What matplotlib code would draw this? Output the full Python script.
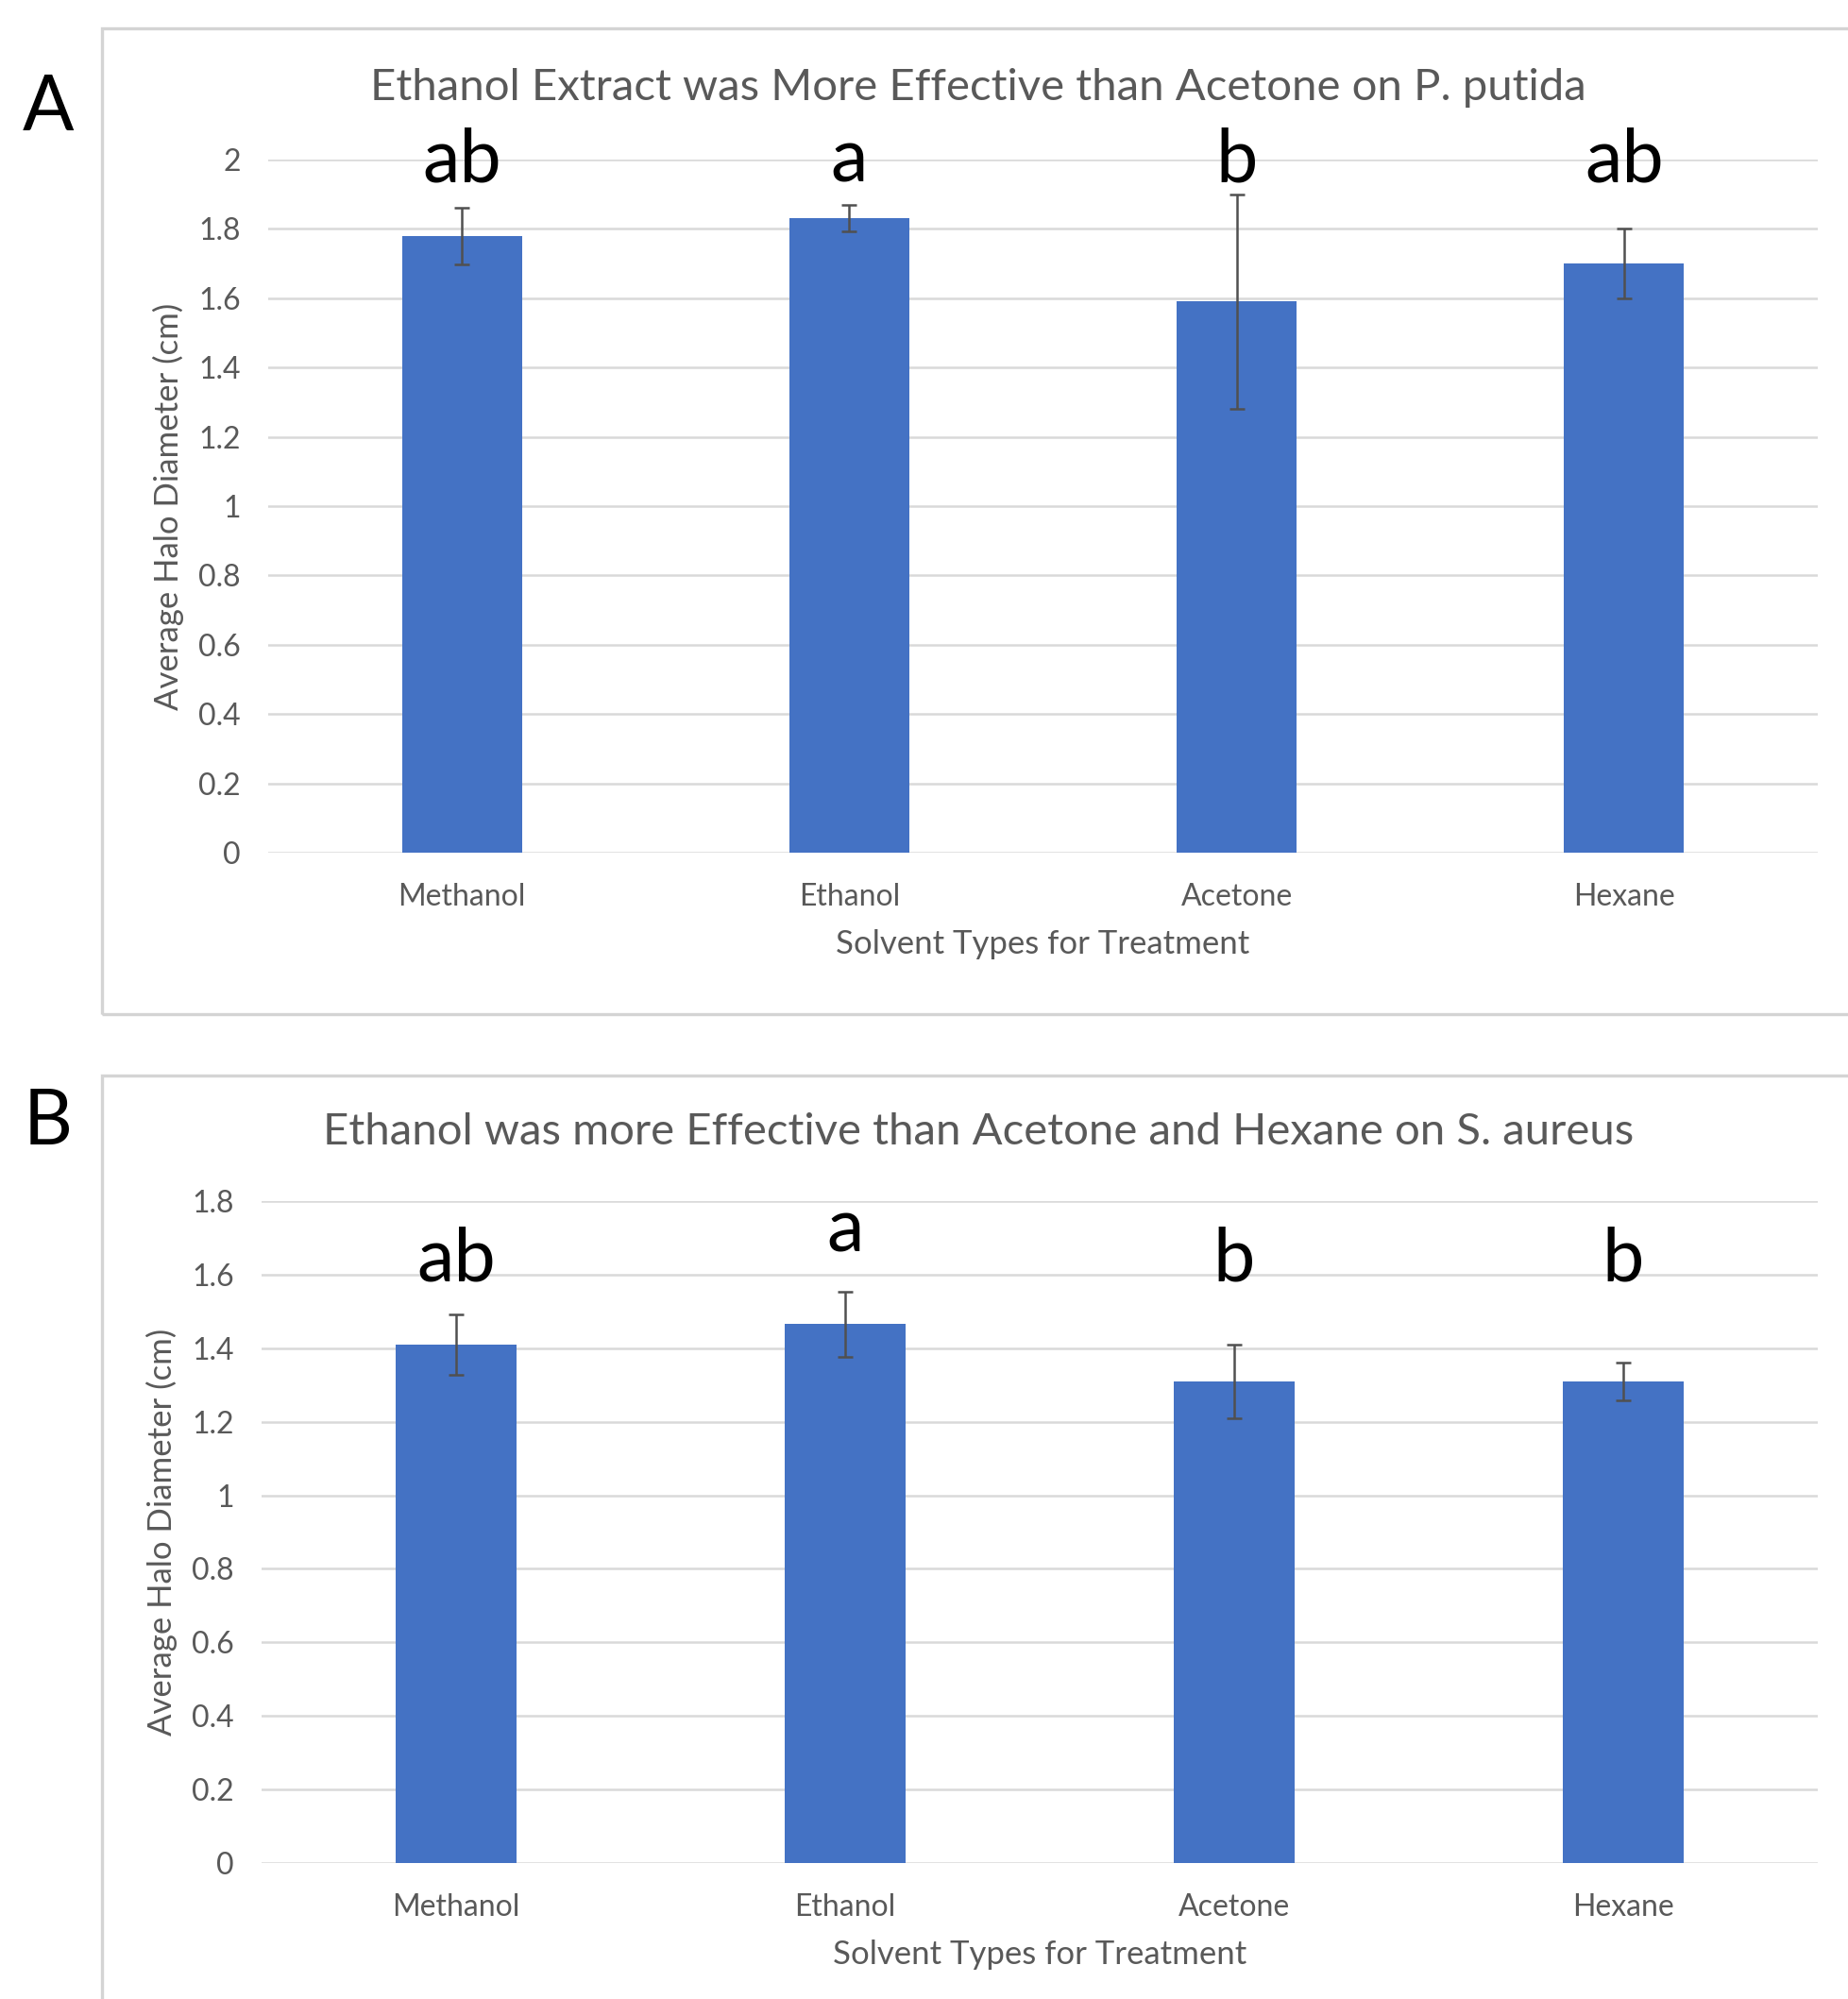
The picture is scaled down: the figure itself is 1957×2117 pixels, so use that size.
import matplotlib
matplotlib.use("Agg")
import matplotlib.pyplot as plt
from matplotlib.patches import Rectangle

plt.rcParams['font.family'] = ['Lato', 'DejaVu Sans']

categories = ["Methanol", "Ethanol", "Acetone", "Hexane"]

# Panel A: P. putida
a_means = [1.78, 1.83, 1.59, 1.70]
a_errs = [0.082, 0.038, 0.31, 0.10]
a_letters = ["ab", "a", "b", "ab"]
a_letter_y = [1.995, 1.995, 1.995, 1.995]
a_title = "Ethanol Extract was More Effective than Acetone on P. putida"
a_ticks = [0, 0.2, 0.4, 0.6, 0.8, 1.0, 1.2, 1.4, 1.6, 1.8, 2.0]
a_ticklabels = ["0", "0.2", "0.4", "0.6", "0.8", "1", "1.2", "1.4", "1.6", "1.8", "2"]

# Panel B: S. aureus
b_means = [1.41, 1.465, 1.31, 1.31]
b_errs = [0.083, 0.088, 0.10, 0.052]
b_letters = ["ab", "a", "b", "b"]
b_letter_y = [1.64, 1.72, 1.64, 1.64]
b_title = "Ethanol was more Effective than Acetone and Hexane on S. aureus"
b_ticks = [0, 0.2, 0.4, 0.6, 0.8, 1.0, 1.2, 1.4, 1.6, 1.8]
b_ticklabels = ["0", "0.2", "0.4", "0.6", "0.8", "1", "1.2", "1.4", "1.6", "1.8"]

xlabel = "Solvent Types for Treatment"
ylabel = "Average Halo Diameter (cm)"

W, H = 1957, 2117
fig = plt.figure(figsize=(W / 100, H / 100), dpi=100)
fig.patch.set_facecolor("white")

BAR = "#4472C4"
GRID = "#d9d9d9"
TXT = "#595959"
ERR = "#505050"

# chart frames
fig.add_artist(Rectangle((108 / W, 1 - 1074 / H), (1975 - 108) / W, (1074 - 30) / H,
                         transform=fig.transFigure, fill=False, ec="#d4d4d4", lw=2.4))
fig.add_artist(Rectangle((108 / W, -0.01), (1975 - 108) / W, (1 - 1139 / H) + 0.01,
                         transform=fig.transFigure, fill=False, ec="#d4d4d4", lw=2.4))


def panel(rect, means, errs, letters, letter_y, ticks, ticklabels, ymax, title, title_y, label, label_y):
    ax = fig.add_axes(rect)
    x = list(range(len(categories)))
    ax.bar(x, means, width=0.31, color=BAR, zorder=3)
    ax.errorbar(x, means, yerr=errs, fmt="none", ecolor=ERR, elinewidth=1.8,
                capsize=6, capthick=1.8, zorder=4)
    ax.set_xlim(-0.5, len(categories) - 0.5)
    ax.set_ylim(0, ymax)
    ax.set_yticks(ticks)
    ax.set_yticklabels(ticklabels)
    ax.set_xticks(x)
    ax.set_xticklabels(categories)
    ax.grid(axis="y", color=GRID, lw=1.8, zorder=0)
    for s in ax.spines.values():
        s.set_visible(False)
    ax.tick_params(axis="both", length=0, labelsize=23, labelcolor=TXT)
    ax.tick_params(axis="y", pad=21)
    ax.tick_params(axis="x", pad=23)
    ax.set_xlabel(xlabel, fontsize=25, color=TXT, labelpad=14)
    ax.set_ylabel(ylabel, fontsize=25, color=TXT, labelpad=11)
    for xi, lt, ly in zip(x, letters, letter_y):
        ax.text(xi, ly, lt, ha="center", va="center", fontsize=57, color="black", zorder=5)
    fig.text(1036 / W, 1 - title_y / H, title, ha="center", va="center", fontsize=34, color=TXT)
    fig.text(51 / W, 1 - label_y / H, label, ha="center", va="center", fontsize=58, color="black")
    return ax


panel([284 / W, 1 - 903 / H, (1925 - 284) / W, (903 - 169) / H],
      a_means, a_errs, a_letters, a_letter_y, a_ticks, a_ticklabels, 2.0,
      a_title, 93, "A", 115)
panel([277 / W, 1 - 1973 / H, (1925 - 277) / W, (1973 - 1272) / H],
      b_means, b_errs, b_letters, b_letter_y, b_ticks, b_ticklabels, 1.8,
      b_title, 1199, "B", 1189)

fig.savefig("out.png", dpi=100, facecolor="white")
